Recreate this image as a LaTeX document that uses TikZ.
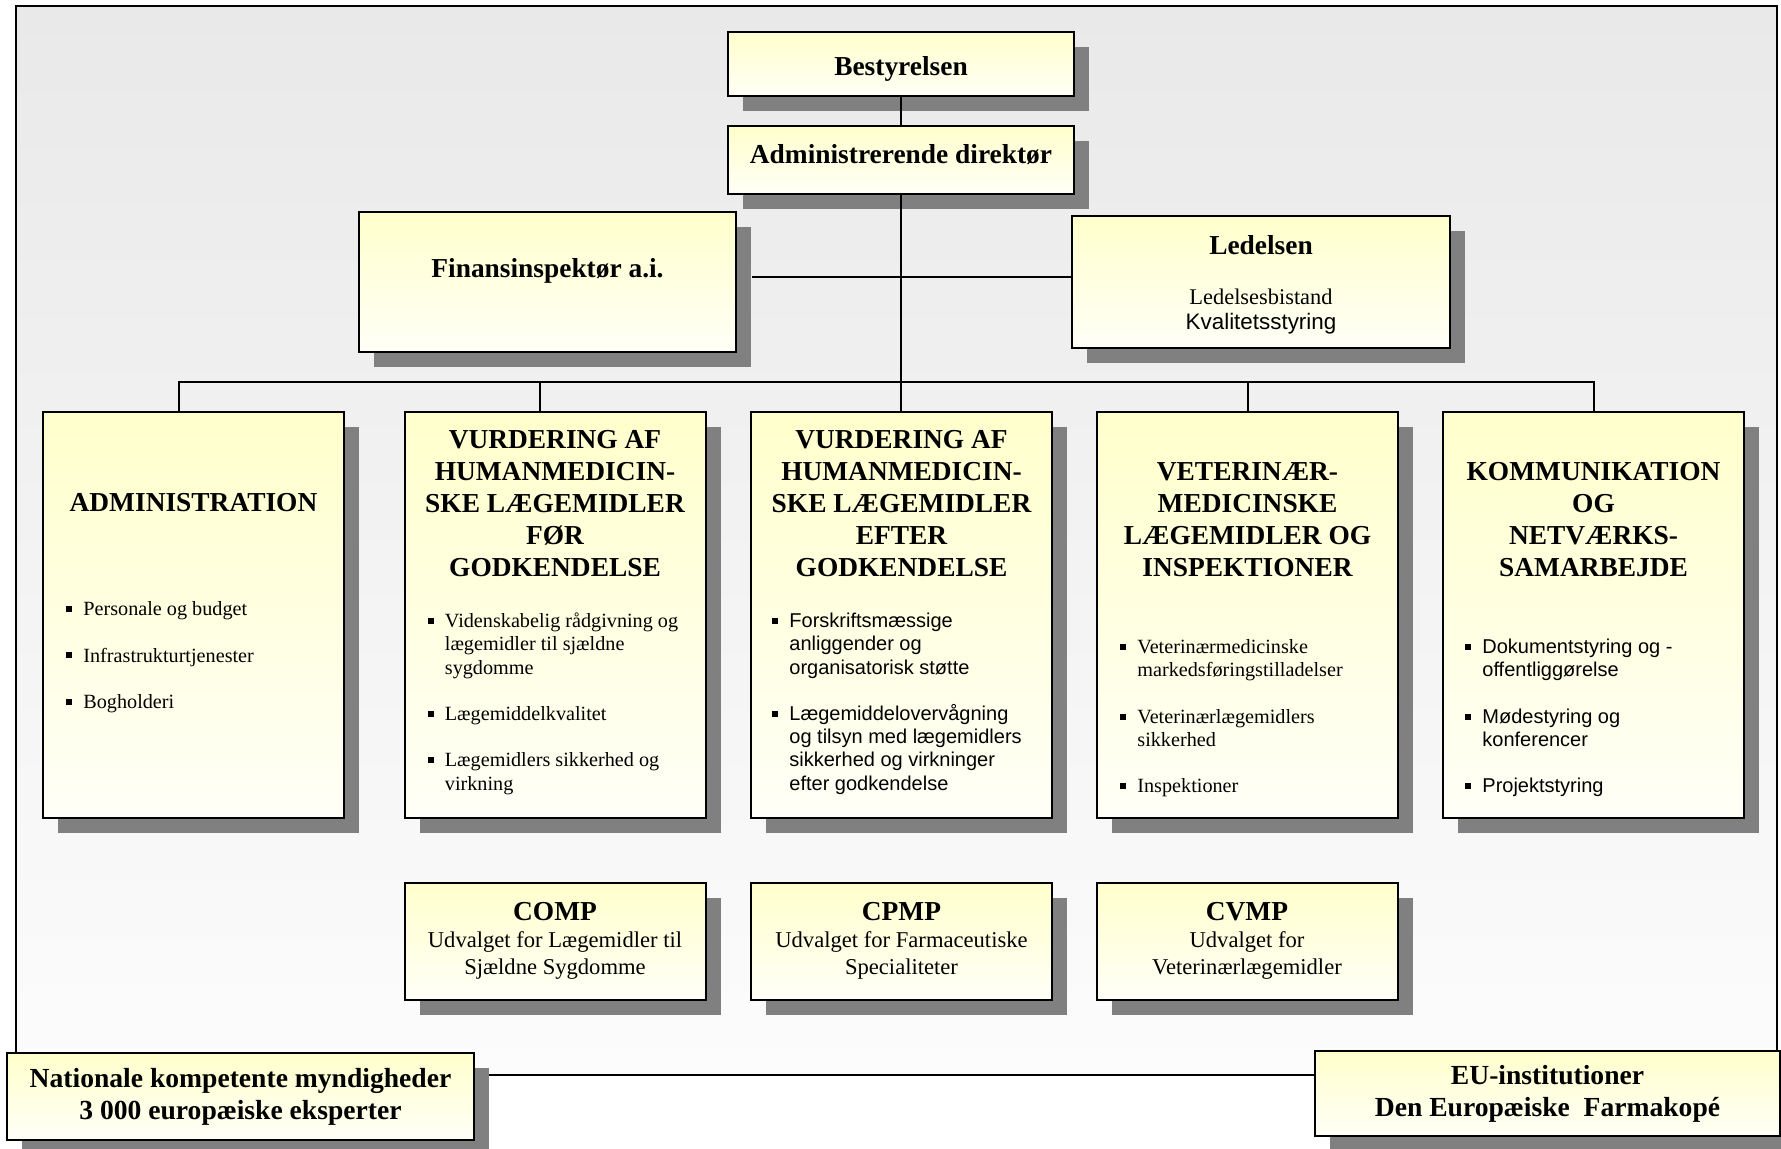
\documentclass[tikz,border=0pt]{standalone}
\usepackage{fontspec}
\setmainfont{Liberation Serif}
\setsansfont{Liberation Sans}
\usetikzlibrary{shadows,positioning}

\definecolor{boxtop}{HTML}{FFFFCC}
\definecolor{boxbot}{HTML}{FFFFF7}
\definecolor{frametop}{HTML}{E9E9E9}
\definecolor{framebot}{HTML}{FCFCFC}
\definecolor{shadowgray}{HTML}{808080}

\newcommand{\sq}{\makebox[8.5pt][l]{\rule[1.8pt]{3pt}{3pt}}}
\newcommand{\ind}{\hspace*{8.5pt}}
\newcommand{\comhead}[1]{{\bfseries\fontsize{13.7}{13.5}\selectfont #1}}

\tikzset{
  orgbox/.style={draw=black, line width=1pt, top color=boxtop, bottom color=boxbot,
    drop shadow={shadow xshift=7.5pt, shadow yshift=-7.5pt, fill=shadowgray, opacity=1},
    inner sep=0pt, align=center, font=\bfseries\fontsize{13.7}{16}\selectfont},
  colbox/.style={orgbox, minimum width=150.5pt, minimum height=203pt},
  combox/.style={orgbox, minimum width=150.5pt, minimum height=58.5pt, font=\fontsize{11.3}{13.6}\selectfont},
  partbox/.style={orgbox, font=\bfseries\fontsize{13.8}{16}\selectfont},
  headtxt/.style={align=center, inner sep=0pt, font=\bfseries\fontsize{13.7}{16}\selectfont},
  blist/.style={align=left, inner sep=0pt, anchor=north west, font=\fontsize{10.1}{11.6}\selectfont},
  slist/.style={blist, font=\sffamily\fontsize{10}{11.6}\selectfont},
  link/.style={draw=black, line width=1pt}
}

\begin{document}
\begin{tikzpicture}[x=0.5pt, y=-0.5pt]
\useasboundingbox (0,0) rectangle (1781,1149);

% outer frame
\draw[line width=1pt, top color=frametop, bottom color=framebot] (16,6) rectangle (1777,1075);

% top of the tree
\node[orgbox, minimum width=173pt, minimum height=32pt] (best) at (901,64) {};
\node[headtxt] (best-txt) at (901,69) {Bestyrelsen};
\node[orgbox, minimum width=173pt, minimum height=34pt] (dir) at (901,160) {};
\node[headtxt] (dir-txt) at (901,154.5) {Administrerende direktør};

\node[orgbox, minimum width=188.5pt, minimum height=70pt] (fin) at (547.5,282) {};
\node[headtxt] (fin-txt) at (547.5,271) {Finansinspektør a.i.};
\node[orgbox, minimum width=189pt, minimum height=66pt] (led) at (1261,282) {};
\node[headtxt] (led-txt) at (1261,245) {Ledelsen};
\node[align=center, inner sep=0pt, font=\fontsize{11.2}{12.5}\selectfont] (led-sub) at (1261,312)
  {Ledelsesbistand\\{\sffamily\fontsize{11.2}{12.5}\selectfont Kvalitetsstyring}};

% units
\foreach \name/\x in {admin/193.5, foer/555, efter/901.5, vet/1247.5, komm/1593.5}
  \node[colbox] (\name) at (\x,615) {};

\node[headtxt] (admin-head) at (193.5,503) {ADMINISTRATION};
\node[headtxt] (foer-head) at (555,504) {VURDERING AF\\HUMANMEDICIN-\\SKE LÆGEMIDLER\\FØR\\GODKENDELSE};
\node[headtxt] (efter-head) at (901.5,504) {VURDERING AF\\HUMANMEDICIN-\\SKE LÆGEMIDLER\\EFTER\\GODKENDELSE};
\node[headtxt] (vet-head) at (1247.5,520) {VETERINÆR-\\MEDICINSKE\\LÆGEMIDLER OG\\INSPEKTIONER};
\node[headtxt] (komm-head) at (1593.5,520) {KOMMUNIKATION\\OG\\NETVÆRKS-\\SAMARBEJDE};

\node[blist] (admin-list) at ([shift={(24,188)}]admin.north west)
  {\strut\sq Personale og budget\\[11.6pt]\sq Infrastrukturtjenester\\[11.6pt]\sq Bogholderi};
\node[blist] (foer-list) at ([shift={(24,200)}]foer.north west)
  {\strut\sq Videnskabelig rådgivning og\\\ind lægemidler til sjældne\\\ind sygdomme\\[11.6pt]%
   \sq Lægemiddelkvalitet\\[11.6pt]\sq Lægemidlers sikkerhed og\\\ind virkning};
\node[slist] (efter-list) at ([shift={(22,200)}]efter.north west)
  {\strut\sq Forskriftsmæssige\\\ind anliggender og\\\ind organisatorisk støtte\\[11.6pt]%
   \sq Lægemiddelovervågning\\\ind og tilsyn med lægemidlers\\\ind sikkerhed og virkninger\\\ind efter godkendelse};
\node[blist] (vet-list) at ([shift={(24,226)}]vet.north west)
  {\strut\sq Veterinærmedicinske\\\ind markedsføringstilladelser\\[11.6pt]%
   \sq Veterinærlægemidlers\\\ind sikkerhed\\[11.6pt]\sq Inspektioner};
\node[slist] (komm-list) at ([shift={(23,226)}]komm.north west)
  {\strut\sq Dokumentstyring og -\\\ind offentliggørelse\\[11.6pt]%
   \sq Mødestyring og\\\ind konferencer\\[11.6pt]\sq Projektstyring};

% committees
\node[combox] (comp) at (555,941) {\comhead{COMP}\\Udvalget for Lægemidler til\\Sjældne Sygdomme};
\node[combox] (cpmp) at (901.5,941) {\comhead{CPMP}\\Udvalget for Farmaceutiske\\Specialiteter};
\node[combox] (cvmp) at (1247,941) {\comhead{CVMP}\\Udvalget for\\Veterinærlægemidler};

% partners
\node[partbox, minimum width=233.5pt, minimum height=43.5pt] (nat) at (240.5,1096.5)
  {Nationale kompetente myndigheder\\3 000 europæiske eksperter};
\node[partbox, minimum width=232.5pt, minimum height=42.5pt] (eu) at (1547.5,1093.5)
  {EU-institutioner\\Den Europæiske\ \ Farmakopé};

% connectors
\coordinate (bus) at (901,382);
\draw[link] (best) -- (dir);
\draw[link] (dir.south) -- (dir.south |- efter.north);
\draw[link] ([xshift=7.5pt,yshift=2.5pt]fin.east) -- ([yshift=2.5pt]led.west);
\draw[link] ([xshift=-7.25pt]admin.north) |- (bus) -| (komm.north);
\draw[link] ([xshift=-7.5pt]foer.north) -- ++(0,-30);
\draw[link] (vet.north) -- (vet.north |- bus);
\end{tikzpicture}
\end{document}
